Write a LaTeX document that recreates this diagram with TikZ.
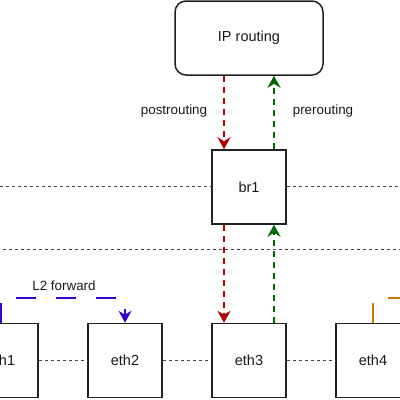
\documentclass[tikz,border=0pt]{standalone}
\usepackage{fontspec}
\setmainfont{Liberation Sans}
\usetikzlibrary{arrows.meta}
\definecolor{boxline}{HTML}{222222}
\definecolor{dotline}{HTML}{444444}
\definecolor{redarr}{HTML}{B20000}
\definecolor{greenarr}{HTML}{006600}
\definecolor{bluearr}{HTML}{3700CC}
\definecolor{orangearr}{HTML}{CC7A00}
\begin{document}
\begin{tikzpicture}[x=1pt,y=-1pt,
  box/.style={draw=boxline, line width=1.5pt, fill=white, minimum width=74pt, minimum height=74pt, inner sep=0pt, font=\fontsize{14.5}{17}\selectfont, text=black!90},
  lbl/.style={font=\fontsize{13.4}{16}\selectfont, text=black!90},
  sep/.style={draw=dotline, line width=1.1pt, dash pattern=on 3pt off 3pt},
  flow/.style={line width=2.2pt, dash pattern=on 6pt off 5pt, -{Stealth[length=12pt,width=13pt,inset=4pt]}},
  l2/.style={line width=2.2pt, dash pattern=on 20pt off 20pt}]
\path[use as bounding box, clip] (0,0) rectangle (400,400);
% separators
\coordinate (s1l) at (0,186.5);
\coordinate (s1r) at (400,186.5);
\coordinate (s2l) at (3,249.5);
\coordinate (s2r) at (400,249.5);
% nodes
\node[box, rounded corners=11pt, minimum width=148pt] (ip) at (249,38) {IP routing};
\node[box] (br1) at (249,187) {br1};
\node[box] (eth1) at (1,360.5) {eth1};
\node[box] (eth2) at (125,360.5) {eth2};
\node[box] (eth3) at (249,360.5) {eth3};
\node[box] (eth4) at (373,360.5) {eth4};
\draw[sep] (s1l) -- (s1l -| br1.west);
\draw[sep] (s1r -| br1.east) -- (s1r);
\draw[sep] (s2l) -- (s2r);
\draw[sep] (eth1.east) -- (eth2.west);
\draw[sep] (eth2.east) -- (eth3.west);
\draw[sep] (eth3.east) -- (eth4.west);
% routing flows
\draw[flow, redarr] ([xshift=-25pt]ip.south) -- ([xshift=-25pt]br1.north);
\draw[flow, greenarr] ([xshift=25pt]br1.north) -- ([xshift=25pt]ip.south);
\draw[flow, redarr] ([xshift=-25pt]br1.south) -- ([xshift=-25pt]eth3.north);
\draw[flow, greenarr] ([xshift=25pt]eth3.north) -- ([xshift=25pt]br1.south);
\node[lbl] (post) at (174,111) {postrouting};
\node[lbl] (pre) at (323,111) {prerouting};
% L2 forward
\coordinate (l2y) at (0,298);
\draw[l2, bluearr, -{Stealth[length=12pt,width=13pt,inset=4pt]}] (eth1.north) -- (eth1.north |- l2y) -- (eth2.north |- l2y) -- (eth2.north);
\node[lbl] (l2lbl) at (64,286) {L2 forward};
\coordinate (oend) at (480,298);
\draw[l2, orangearr] (eth4.north) -- (eth4.north |- l2y) -- (oend);
\end{tikzpicture}
\end{document}
